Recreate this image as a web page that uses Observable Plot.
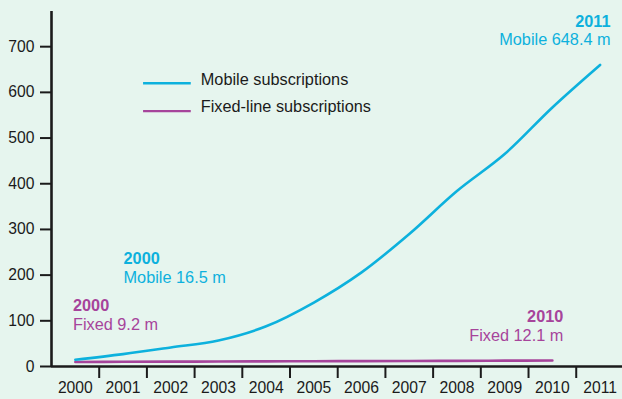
<!DOCTYPE html>
<html>
<head>
<meta charset="utf-8">
<script src="https://cdn.jsdelivr.net/npm/d3@7"></script>
<script src="https://cdn.jsdelivr.net/npm/@observablehq/plot@0.6"></script>
<style>
  html, body { margin: 0; padding: 0; background: #e6f5ee; }
  #chart svg { display: block; }
</style>
</head>
<body>
<div id="chart"></div>
<script>
// Data
const years = [2000, 2001, 2002, 2003, 2004, 2005, 2006, 2007, 2008, 2009, 2010, 2011];
const mobile = [14.7, 27, 41.6, 57, 88, 140, 206, 290, 384, 465, 567, 660];
const fixedYears = [2000, 2001, 2002, 2003, 2004, 2005, 2006, 2007, 2008, 2009, 2010];
const fixed = [10, 10.3, 10.6, 10.9, 11.2, 11.5, 11.8, 12.1, 12.4, 12.8, 13.2];
const yTicks = [0, 100, 200, 300, 400, 500, 600, 700];
const seriesNames = ["Mobile subscriptions", "Fixed-line subscriptions"];

const cMobile = "#0db1dd";
const cFixed = "#a6449b";
const ink = "#1b1b1b";
const fs = 16.3;

const mobileData = years.map((y, i) => ({year: y, value: mobile[i]}));
const fixedData = fixedYears.map((y, i) => ({year: y, value: fixed[i]}));
const boundaries = years.slice(0, -1).map(y => y + 0.5);

const chart = Plot.plot({
  width: 622,
  height: 399,
  marginLeft: 51,
  marginRight: 0,
  marginTop: 11,
  marginBottom: 33,
  style: {background: "#e6f5ee", fontFamily: "'Liberation Sans', Arial, sans-serif", fontSize: "15.7px", color: ink},
  x: {domain: [1999.5, 2011.47]},
  y: {domain: [0, 777]},
  marks: [
    Plot.axisY({ticks: yTicks, tickSize: 11, tickPadding: 6, strokeWidth: 2, stroke: ink, label: null, tickFormat: d => String(d)}),
    Plot.axisX({ticks: years, tickSize: 0, tickPadding: 15, label: null, tickFormat: d => String(d), fill: ink}),
    Plot.axisX({ticks: boundaries, tickSize: 12, strokeWidth: 2, stroke: ink, label: null, tickFormat: () => ""}),
    Plot.lineY(fixedData, {x: "year", y: "value", stroke: cFixed, strokeWidth: 2.6, curve: "catmull-rom"}),
    Plot.lineY(mobileData, {x: "year", y: "value", stroke: cMobile, strokeWidth: 2.6, curve: "catmull-rom"}),
    Plot.ruleX([1999.5], {y1: 0, y2: 777, stroke: ink, strokeWidth: 2.6}),
    Plot.ruleY([0], {x1: 1999.5, x2: 2011.47, stroke: ink, strokeWidth: 2.6}),
    // Legend
    Plot.ruleY([620], {x1: 2001.43, x2: 2002.43, stroke: cMobile, strokeWidth: 2.4}),
    Plot.ruleY([559], {x1: 2001.43, x2: 2002.43, stroke: cFixed, strokeWidth: 2.4}),
    Plot.text([seriesNames[0]], {x: 2002.63, y: 628, text: d => d, textAnchor: "start", fill: ink, fontSize: fs}),
    Plot.text([seriesNames[1]], {x: 2002.63, y: 567.5, text: d => d, textAnchor: "start", fill: ink, fontSize: fs}),
    // Annotations
    Plot.text([String(years[0])], {x: 2001.01, y: 235.3, text: d => d, textAnchor: "start", fill: cMobile, fontWeight: "bold", fontSize: fs}),
    Plot.text(["Mobile 16.5 m"], {x: 2001.01, y: 193.7, text: d => d, textAnchor: "start", fill: cMobile, fontSize: fs}),
    Plot.text([String(years[0])], {x: 1999.95, y: 132.4, text: d => d, textAnchor: "start", fill: cFixed, fontWeight: "bold", fontSize: fs}),
    Plot.text(["Fixed 9.2 m"], {x: 1999.95, y: 90.8, text: d => d, textAnchor: "start", fill: cFixed, fontSize: fs}),
    Plot.text([String(fixedYears[fixedYears.length - 1])], {x: 2010.23, y: 109.4, text: d => d, textAnchor: "end", fill: cFixed, fontWeight: "bold", fontSize: fs}),
    Plot.text(["Fixed 12.1 m"], {x: 2010.23, y: 67.8, text: d => d, textAnchor: "end", fill: cFixed, fontSize: fs}),
    Plot.text([String(years[years.length - 1])], {x: 2011.22, y: 755, text: d => d, textAnchor: "end", fill: cMobile, fontWeight: "bold", fontSize: fs}),
    Plot.text(["Mobile 648.4 m"], {x: 2011.22, y: 715.7, text: d => d, textAnchor: "end", fill: cMobile, fontSize: fs})
  ]
});
document.getElementById("chart").appendChild(chart);
</script>
</body>
</html>
